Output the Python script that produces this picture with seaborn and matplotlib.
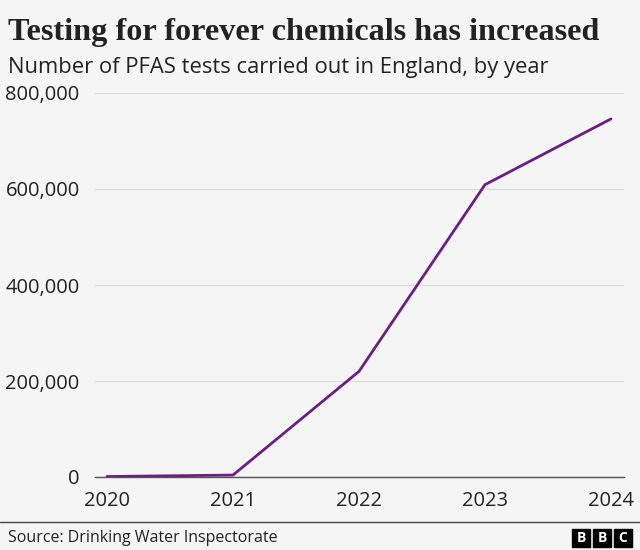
import matplotlib
matplotlib.use("Agg")
import matplotlib.pyplot as plt
import matplotlib.ticker as mticker
from matplotlib.patches import Rectangle
from matplotlib.lines import Line2D
import seaborn as sns
import pandas as pd

# data
years = [2020, 2021, 2022, 2023, 2024]
tests = [1000, 4000, 220000, 609000, 746000]
y_ticks = [0, 200000, 400000, 600000, 800000]

title = "Testing for forever chemicals has increased"
subtitle = "Number of PFAS tests carried out in England, by year"
source = "Source: Drinking Water Inspectorate"

bg = "#f5f5f5"
line_col = "#6b1f80"
text_col = "#222222"

sns.set_style("white")
plt.rcParams['font.family'] = ['Open Sans', 'DejaVu Sans']

W, H = 640, 550
fig = plt.figure(figsize=(W / 100, H / 100), dpi=100, facecolor=bg)
ax = fig.add_axes([95 / W, 1 - 477 / H, (624 - 95) / W, (477 - 93) / H])
ax.set_facecolor(bg)

df = pd.DataFrame({"year": years, "tests": tests})
sns.lineplot(data=df, x="year", y="tests", color=line_col, linewidth=2, ax=ax, zorder=3)

ax.set_xlim(2020 - 12 / 126, 2024 + 13 / 126)
ax.set_ylim(0, 800000)
ax.set_xticks(years)
ax.set_yticks(y_ticks)
ax.yaxis.set_major_formatter(mticker.FuncFormatter(lambda v, p: f"{int(v):,}"))
ax.set_xlabel("")
ax.set_ylabel("")

for s in ["top", "right", "left"]:
    ax.spines[s].set_visible(False)
ax.spines["bottom"].set_color("#555555")
ax.spines["bottom"].set_linewidth(1)

ax.grid(axis="y", color="#dddddd", linewidth=1)
ax.grid(axis="x", visible=False)
ax.set_axisbelow(True)

ax.tick_params(axis="y", length=0, pad=11, labelsize=14.5, labelcolor=text_col)
ax.tick_params(axis="x", length=6, width=1, color="#555555", pad=4,
               labelsize=14.5, labelcolor=text_col, direction="out")

fig.text(8 / W, 1 - 40 / H, title, fontsize=23.2, fontweight="bold",
         family=["Liberation Serif", "DejaVu Serif"], color=text_col, va="baseline")
fig.text(8 / W, 1 - 73 / H, subtitle, fontsize=15.8, color=text_col, va="baseline")

fig.add_artist(Line2D([0, 1], [1 - 522 / H, 1 - 522 / H], color="#444444", linewidth=1,
                      transform=fig.transFigure))
fig.text(8 / W, 1 - 542 / H, source, fontsize=11.5, color=text_col, va="baseline")

# BBC blocks
for i, letter in enumerate("BBC"):
    x0 = 572 + i * 21
    fig.add_artist(Rectangle((x0 / W, 1 - 547 / H), 18 / W, 18 / H,
                             transform=fig.transFigure, color="black"))
    fig.text((x0 + 9) / W, 1 - 538 / H, letter, fontsize=10, fontweight="bold",
             color="white", ha="center", va="center")

fig.savefig("out.png", dpi=100, facecolor=bg)
